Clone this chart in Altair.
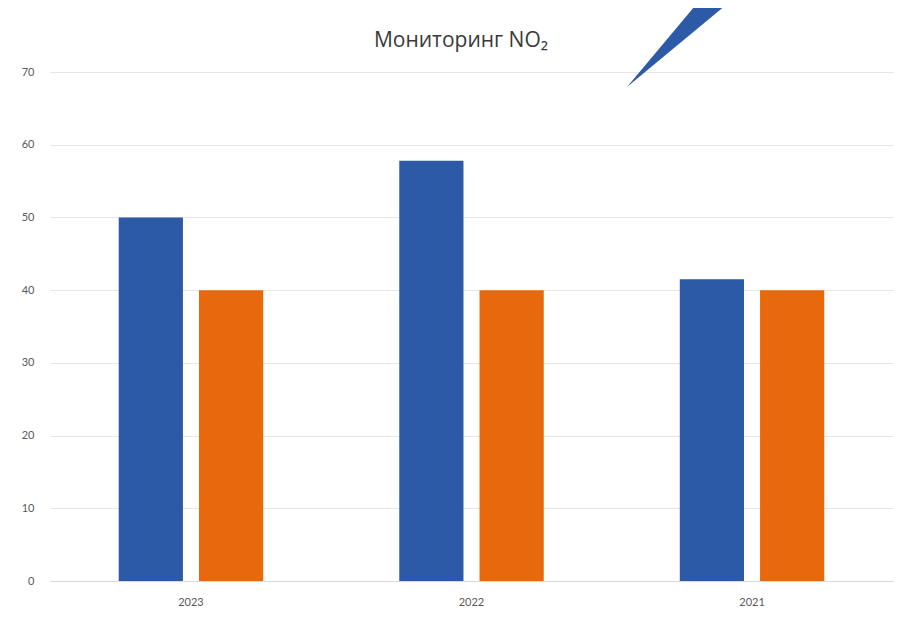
import altair as alt
import pandas as pd

years = ["2023", "2022", "2021"]
measured = [50.0, 57.8, 41.5]
limit = [40.0, 40.0, 40.0]
series_names = ["Среднегодовая концентрация NO₂", "ПДК NO₂"]
y_ticks = [0, 10, 20, 30, 40, 50, 60, 70]
title_text = "Мониторинг NO₂"

rows = []
for i, yr in enumerate(years):
    rows.append({"year": yr, "series": series_names[0], "value": measured[i]})
    rows.append({"year": yr, "series": series_names[1], "value": limit[i]})
df = pd.DataFrame(rows)

FONT = "Lato"

bars = alt.Chart(df).mark_bar().encode(
    x=alt.X("year:N", sort=years, title=None,
            scale=alt.Scale(paddingInner=0.485, paddingOuter=0.245),
            axis=alt.Axis(labelAngle=0, ticks=False, domainColor="#d9d9d9",
                          labelPadding=15, labelFontSize=11, labelColor="#595959",
                          labelFont=FONT)),
    xOffset=alt.XOffset("series:N", sort=series_names,
                        scale=alt.Scale(paddingInner=0.2, paddingOuter=0)),
    y=alt.Y("value:Q", title=None,
            scale=alt.Scale(domain=[0, 70], nice=False),
            axis=alt.Axis(values=y_ticks, domain=False, ticks=False,
                          gridColor="#e6e6e6", labelPadding=16, labelFontSize=11,
                          labelColor="#595959", labelFont=FONT)),
    color=alt.Color("series:N", sort=series_names,
                    scale=alt.Scale(domain=series_names, range=["#2D5AA7", "#E8680C"]),
                    legend=None),
)

title = alt.Chart(pd.DataFrame({"t": [title_text]})).mark_text(
    font="Open Sans", fontSize=21, color="#3a3a3a", align="center", baseline="alphabetic",
).encode(text="t:N", x=alt.value(411), y=alt.value(-25))

# decorative blue wedge overlapping the top of the chart
wedge = alt.Chart(pd.DataFrame({"k": [0]})).mark_point(
    shape="M -1 0.829 L 0.39 -0.829 L 1 -0.829 Z",
    filled=True, opacity=1, color="#2D5AA7", strokeWidth=0,
).encode(x=alt.value(635.5), y=alt.value(-33.5), size=alt.value(13689))

chart = alt.layer(bars, title, wedge).properties(
    width=843, height=509,
    background="white",
    autosize=alt.AutoSizeParams(type="none"),
    padding={"left": 42, "top": 64, "right": 10, "bottom": 35},
).configure_view(stroke=None)

chart.save("out.html", embed_options={"renderer": "svg", "actions": False})
